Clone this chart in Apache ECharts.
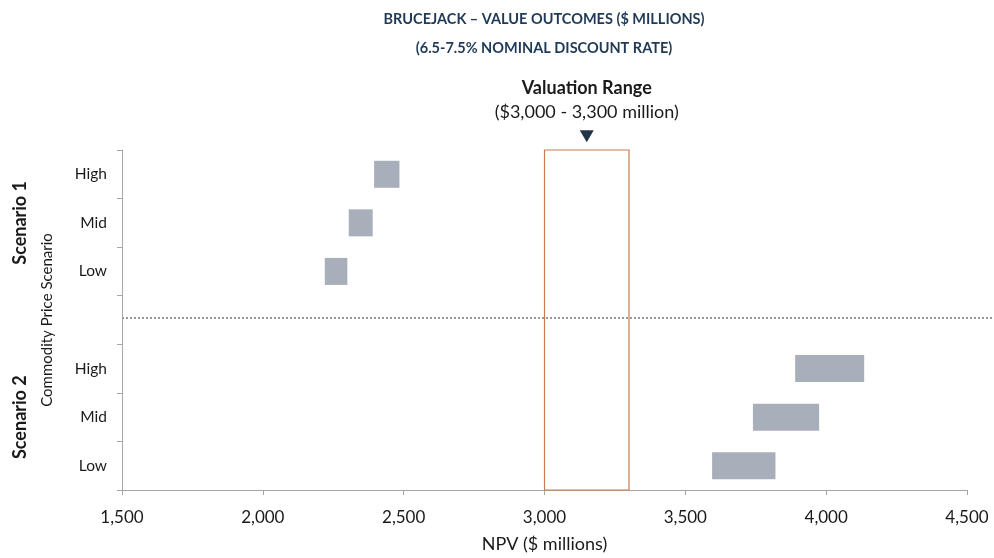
<!DOCTYPE html>
<html>
<head>
<meta charset="utf-8">
<script src="https://cdn.jsdelivr.net/npm/echarts@6/dist/echarts.min.js"></script>
<style>
  html, body { margin: 0; padding: 0; background: #fff; }
  #chart { width: 994px; height: 558px; }
</style>
</head>
<body>
<div id="chart"></div>
<script>
  // rows from bottom to top, 'gap' is the empty row between the two scenarios
  var categories = ['S2 Low', 'S2 Mid', 'S2 High', 'gap', 'S1 Low', 'S1 Mid', 'S1 High']
  var lowValues = [3595, 3740, 3890, null, 2220, 2305, 2395]
  var highValues = [3820, 3975, 4135, null, 2300, 2390, 2485]
  var valuationRange = [3000, 3300]
  var xMin = 1500
  var xMax = 4500
  var xStep = 500

  var font = 'Lato'
  var barColor = '#a9aebb'
  var boxColor = '#c97d4c'
  var navy = '#1f3a56'
  var ink = '#1a1a1a'

  var rangeValues = lowValues.map(function (v, i) {
    return v == null ? '-' : highValues[i] - v
  })

  var myChart = echarts.init(document.getElementById('chart'))

  myChart.setOption({
    animation: false,
    textStyle: { fontFamily: font },
    title: {
      text: 'BRUCEJACK – VALUE OUTCOMES ($ MILLIONS)\n(6.5-7.5% NOMINAL DISCOUNT RATE)',
      left: 544,
      top: 5,
      padding: 0,
      textAlign: 'center',
      textStyle: {
        fontFamily: font,
        fontSize: 14.5,
        fontWeight: 'bold',
        color: navy,
        lineHeight: 29
      }
    },
    grid: { left: 122, right: 27, top: 150, bottom: 65 },
    xAxis: {
      type: 'value',
      min: xMin,
      max: xMax,
      interval: xStep,
      name: 'NPV ($ millions)',
      nameLocation: 'middle',
      nameGap: 45,
      nameTextStyle: { fontSize: 18, color: ink },
      axisLine: { show: true, lineStyle: { color: '#a6a6a6' } },
      axisTick: { show: true, length: 5, lineStyle: { color: '#a6a6a6' } },
      axisLabel: {
        margin: 19,
        fontSize: 17,
        color: ink,
        formatter: function (v) { return v.toLocaleString('en-US') }
      },
      splitLine: { show: false }
    },
    yAxis: {
      type: 'category',
      data: categories,
      name: 'Commodity Price Scenario',
      nameLocation: 'middle',
      nameGap: 67,
      nameTextStyle: { fontSize: 15, color: ink },
      axisLine: { show: true, lineStyle: { color: '#a6a6a6' } },
      axisTick: { show: true, length: 5, lineStyle: { color: '#a6a6a6' } },
      axisLabel: {
        margin: 15,
        fontSize: 15.5,
        color: ink,
        formatter: function (v) { return v === 'gap' ? '' : v.split(' ')[1] }
      }
    },
    series: [
      {
        name: 'base',
        type: 'bar',
        stack: 'npv',
        barWidth: 27,
        silent: true,
        itemStyle: { color: 'transparent' },
        data: lowValues.map(function (v) { return v == null ? '-' : v })
      },
      {
        name: 'NPV range',
        type: 'bar',
        stack: 'npv',
        barWidth: 27,
        itemStyle: { color: barColor },
        data: rangeValues
      },
      {
        name: 'Valuation Range',
        type: 'line',
        data: [],
        markArea: {
          silent: true,
          itemStyle: { color: 'transparent', borderColor: boxColor, borderWidth: 1.2 },
          data: [[{ xAxis: valuationRange[0] }, { xAxis: valuationRange[1] }]]
        },
        markPoint: {
          silent: true,
          symbol: 'triangle',
          symbolRotate: 180,
          symbolSize: [14, 12],
          symbolOffset: [0, -38],
          itemStyle: { color: '#243447' },
          label: {
            show: true,
            position: 'top',
            distance: 6,
            formatter: '{b|Valuation Range}\n{n|($3,000 - 3,300 million)}',
            rich: {
              b: { fontFamily: font, fontSize: 18, fontWeight: 'bold', color: ink, lineHeight: 24, align: 'center' },
              n: { fontFamily: font, fontSize: 18, color: ink, lineHeight: 24, align: 'center' }
            }
          },
          data: [{ coord: [(valuationRange[0] + valuationRange[1]) / 2, 'S1 High'] }]
        }
      }
    ]
  })

  // scenario labels and the divider, placed through the axis scales
  var gapY = myChart.convertToPixel({ yAxisIndex: 0 }, 'gap')
  var s1Y = myChart.convertToPixel({ yAxisIndex: 0 }, 'S1 Mid')
  var s2Y = myChart.convertToPixel({ yAxisIndex: 0 }, 'S2 Mid')
  var leftX = myChart.convertToPixel({ xAxisIndex: 0 }, xMin)

  function scenarioText (label, y) {
    return {
      type: 'text',
      x: 20,
      y: y,
      rotation: Math.PI / 2,
      style: {
        text: label,
        fontFamily: font,
        fontSize: 18,
        fontWeight: 'bold',
        fill: ink,
        textAlign: 'center',
        textVerticalAlign: 'middle'
      }
    }
  }

  myChart.setOption({
    graphic: [
      scenarioText('Scenario 1', s1Y),
      scenarioText('Scenario 2', s2Y),
      {
        type: 'line',
        shape: { x1: leftX, y1: gapY - 2, x2: 994, y2: gapY - 2 },
        style: { stroke: '#333', lineWidth: 1, lineDash: [2, 2] }
      }
    ]
  })
</script>
</body>
</html>
